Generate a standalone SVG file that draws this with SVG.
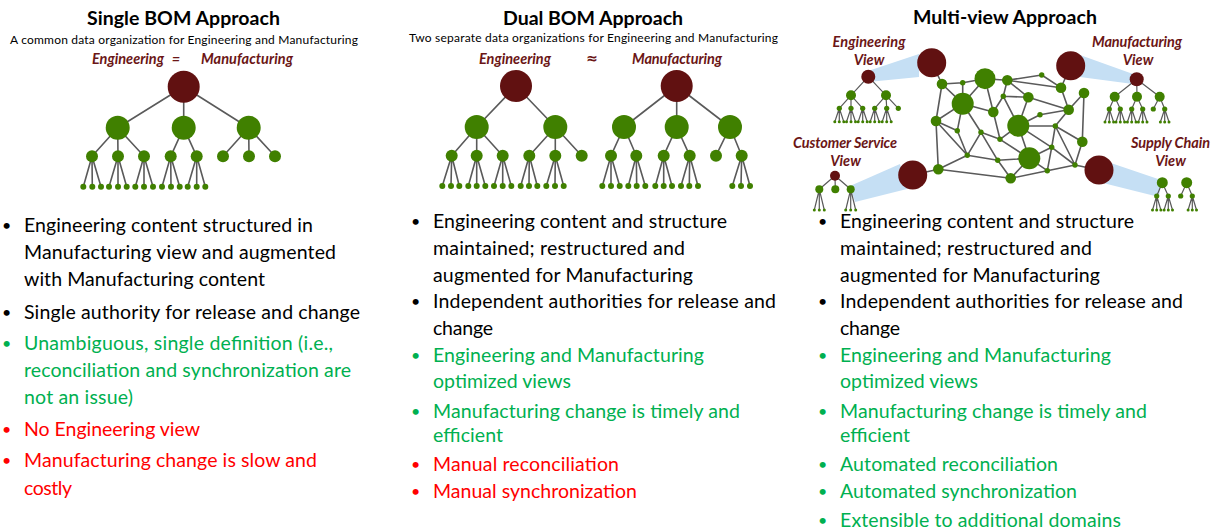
<svg xmlns="http://www.w3.org/2000/svg" width="1216" height="531" viewBox="0 0 1216 531">
<style>
.t{font-family:Lato,"Liberation Sans",sans-serif;font-weight:bold;font-size:19.5px;fill:#000;text-anchor:middle}
.s{font-family:Lato,"Liberation Sans",sans-serif;font-size:12px;fill:#000;text-anchor:middle}
.lb{font-family:Lato,"Liberation Sans",sans-serif;font-weight:bold;font-style:italic;font-size:14.5px;fill:#6b1616;text-anchor:middle}
.b{font-family:Lato,"Liberation Sans",sans-serif;font-size:19.5px}
.bu{font-size:16px}
.k{fill:#000}.g{fill:#00b050}.r{fill:#ff0000}
.dr{fill:#611111}
.gn{fill:#408000}
.e{stroke:#5a5a5a;stroke-width:1.6;fill:none}
.e2{stroke:#5a5a5a;stroke-width:1.2;fill:none}
.w{fill:#c5dff4}
</style>

<g id="headings">
<text class="t" x="183.5" y="25" textLength="193">Single BOM Approach</text>
<text class="s" x="184" y="44" textLength="348">A common data organization for Engineering and Manufacturing</text>
<text class="lb" x="128" y="64" textLength="72">Engineering</text>
<text class="lb" x="176" y="64">=</text>
<text class="lb" x="247" y="64" textLength="92">Manufacturing</text>

<text class="t" x="593" y="25" textLength="180">Dual BOM Approach</text>
<text class="s" x="593.5" y="42" textLength="369">Two separate data organizations for Engineering and Manufacturing</text>
<text class="lb" x="515" y="64" textLength="72">Engineering</text>
<text class="lb" x="592" y="63" style="font-family:'DejaVu Sans',sans-serif;font-size:14px;font-style:normal">≈</text>
<text class="lb" x="677" y="64" textLength="90">Manufacturing</text>

<text class="t" x="1005" y="24" textLength="184">Multi-view Approach</text>
<text class="lb" x="869" y="47" textLength="73">Engineering</text>
<text class="lb" x="869" y="64.5">View</text>
<text class="lb" x="1137" y="47" textLength="90">Manufacturing</text>
<text class="lb" x="1138" y="64.5">View</text>
<text class="lb" x="845" y="148" textLength="104">Customer Service</text>
<text class="lb" x="845.5" y="166">View</text>
<text class="lb" x="1170.5" y="148" textLength="79">Supply Chain</text>
<text class="lb" x="1170.5" y="166">View</text>
</g>

<g id="view-wedges">
<polygon class="w" points="868,71 919,54 919,77 868,82"/>
<polygon class="w" points="1080,55 1133,74 1133,84 1080,77"/>
<polygon class="w" points="900,164 907,189 855,202 850,186"/>
<polygon class="w" points="1108,162 1161,180 1159,197 1103,183"/>
</g>

<g id="connectors">
<path class="e" d="M183.7,86.7L117.7,127.7M183.7,86.7L183.7,127.7M183.7,86.7L248.7,127.7
M117.7,127.7L92,156.3M117.7,127.7L118,156.3M117.7,127.7L144,156.3
M183.7,127.7L170.7,156.3M183.7,127.7L196.7,156.3
M248.7,127.7L223,156.3M248.7,127.7L249,156.3M248.7,127.7L275,156.3
M92,156.3L83.3,186.7M92,156.3L92.3,186.7M92,156.3L101,186.7
M118,156.3L109,186.7M118,156.3L118,186.7M118,156.3L126.7,186.7
M144,156.3L135.3,186.7M144,156.3L144,186.7M144,156.3L153,186.7
M170.7,156.3L162,186.7M170.7,156.3L171,186.7M170.7,156.3L179.7,186.7
M196.7,156.3L187.7,186.7M196.7,156.3L196.7,186.7M196.7,156.3L205.3,186.7"/>
<path class="e" d="M516,86L476.7,127M516,86L555.3,127
M476.7,127L451.7,155.7M476.7,127L476.7,155.7M476.7,127L502.7,155.7
M555.3,127L529.3,155.7M555.3,127L555.3,155.7M555.3,127L581.7,155.7
M451.7,155.7L442.3,186M451.7,155.7L451,186M451.7,155.7L459.3,186
M476.7,155.7L468.3,186M476.7,155.7L476.7,186M476.7,155.7L485.3,186
M502.7,155.7L494,186M502.7,155.7L502.7,186M502.7,155.7L511.3,186
M529.3,155.7L520.7,186M529.3,155.7L529,186M529.3,155.7L537.3,186
M555.3,155.7L546.3,186M555.3,155.7L555,186M555.3,155.7L563.7,186"/>
<path class="e" d="M676.7,86L624,127M676.7,86L676.7,127M676.7,86L730,127
M624,127L611,155.7M624,127L636.3,155.7
M676.7,127L663.7,155.7M676.7,127L689.7,155.7
M730,127L716,155.7M730,127L741.7,155.7
M611,155.7L602.3,186M611,155.7L611,186M611,155.7L619.7,186
M636.3,155.7L628.3,186M636.3,155.7L636.7,186M636.3,155.7L645.3,186
M663.7,155.7L655.3,186M663.7,155.7L663.7,186M663.7,155.7L672,186
M689.7,155.7L681,186M689.7,155.7L689.3,186M689.7,155.7L698,186
M741.7,155.7L732.3,186M741.7,155.7L741,186M741.7,155.7L750,186"/>
<path class="e2" d="M868.3,76.7L851,95.3M868.3,76.7L886,95.3
M851,95.3L839.3,108.3M851,95.3L851,108.3M851,95.3L862.7,108.3
M886,95.3L874.7,108.3M886,95.3L886.7,108.3M886,95.3L898.3,108.3
M839.3,108.3L834.8,121.7M839.3,108.3L839.3,121.7M839.3,108.3L843.8,121.7
M851,108.3L846.5,121.7M851,108.3L851,121.7M851,108.3L855.5,121.7
M862.7,108.3L858.2,121.7M862.7,108.3L862.7,121.7M862.7,108.3L867.2,121.7
M874.7,108.3L870.2,121.7M874.7,108.3L874.7,121.7M874.7,108.3L879.2,121.7
M886.7,108.3L882.2,121.7M886.7,108.3L886.7,121.7M886.7,108.3L891.2,121.7"/>
<path class="e2" d="M1136.7,79.3L1114.7,96.7M1136.7,79.3L1137,96.7M1136.7,79.3L1159.7,96.7
M1114.7,96.7L1109.3,109M1114.7,96.7L1120.3,109
M1137,96.7L1131.7,109M1137,96.7L1142.7,109
M1159.7,96.7L1153.3,109M1159.7,96.7L1164.7,109
M1109.3,109L1105,122M1109.3,109L1109.3,122M1109.3,109L1113.6,122
M1120.3,109L1116,122M1120.3,109L1120.3,122M1120.3,109L1124.6,122
M1131.7,109L1127.4,122M1131.7,109L1131.7,122M1131.7,109L1136,122
M1142.7,109L1138.4,122M1142.7,109L1142.7,122M1142.7,109L1147,122
M1164.7,109L1160.4,122M1164.7,109L1164.7,122M1164.7,109L1169,122"/>
<path class="e2" d="M835,175.7L819.3,189.3M835,175.7L835.3,189.3M835,175.7L850.7,189.3
M819.3,189.3L814.3,210M819.3,189.3L819.3,210M819.3,189.3L824.3,210
M850.7,189.3L845.7,210M850.7,189.3L850.7,210M850.7,189.3L855.7,210"/>
<path class="e2" d="M1162.3,182.7L1156.7,196M1162.3,182.7L1168.3,196
M1186.7,182.7L1180.7,196M1186.7,182.7L1192.3,196
M1156.7,196L1152.5,210M1156.7,196L1156.7,210M1156.7,196L1160.9,210
M1168.3,196L1164.1,210M1168.3,196L1168.3,210M1168.3,196L1172.5,210
M1192.3,196L1188.1,210M1192.3,196L1192.3,210M1192.3,196L1196.5,210"/>
<path class="e" d="M931.7,62.7L942,84
M942,84L962.7,82.7M942,84L962.7,103.7M942,84L936,121
M962.7,82.7L985,78.7M962.7,82.7L962.7,103.7
M985,78.7L1007.3,80.3M985,78.7L962.7,103.7M985,78.7L993.3,112
M1007.3,80.3L1041.7,75M1007.3,80.3L1061,87.7M1007.3,80.3L1003.3,96.3M1007.3,80.3L1028.3,97.3
M1041.7,75L1061,87.7
M1061,87.7L1070.7,65.7M1061,87.7L1068.7,109.7
M1084,93L1068.7,109.7M1084,93L1082.3,141.7
M962.7,103.7L993.3,112M962.7,103.7L957.3,130.7M962.7,103.7L981,132.3M962.7,103.7L936,121
M1003.3,96.3L1028.3,97.3M1003.3,96.3L1018.3,125.7M1003.3,96.3L993.3,112
M1028.3,97.3L1068.7,109.7M1028.3,97.3L1018.3,125.7
M993.3,112L1000,139.3
M1068.7,109.7L1040,114.7M1068.7,109.7L1055.3,126
M936,121L957.3,130.7M936,121L967.3,155.3M936,121L938.3,169.3
M1040,114.7L1018.3,125.7
M1018.3,125.7L1000,139.3M1018.3,125.7L1055.3,126M1018.3,125.7L1051.7,147.3M1018.3,125.7L1029.3,158.3
M957.3,130.7L967.3,155.3
M981,132.3L1000,139.3M981,132.3L967.3,155.3M981,132.3L997.7,160.3
M1000,139.3L1029.3,158.3
M1055.3,126L1082.3,141.7M1055.3,126L1051.7,147.3M1055.3,126L1075,165
M1082.3,141.7L1075,165
M1051.7,147.3L1029.3,158.3M1051.7,147.3L1047.3,170.7M1051.7,147.3L1075,165
M1029.3,158.3L997.7,160.3M1029.3,158.3L1010.7,178.3M1029.3,158.3L1047.3,170.7
M967.3,155.3L997.7,160.3M967.3,155.3L938.3,169.3
M997.7,160.3L1010.7,178.3
M938.3,169.3L1010.7,178.3M938.3,169.3L912.7,175
M1010.7,178.3L1047.3,170.7
M1047.3,170.7L1075,165
M1075,165L1099,170"/>
</g>

<g id="single-bom-tree">
<circle class="dr" cx="183.7" cy="86.7" r="16"/>
<g class="gn">
<circle cx="117.7" cy="127.7" r="12"/><circle cx="183.7" cy="127.7" r="12"/><circle cx="248.7" cy="127.7" r="12"/>
<circle cx="92" cy="156.3" r="6"/><circle cx="118" cy="156.3" r="6"/><circle cx="144" cy="156.3" r="6"/><circle cx="170.7" cy="156.3" r="6"/><circle cx="196.7" cy="156.3" r="6"/><circle cx="223" cy="156.3" r="6"/><circle cx="249" cy="156.3" r="6"/><circle cx="275" cy="156.3" r="6"/>
<circle cx="83.3" cy="186.7" r="3"/><circle cx="92.3" cy="186.7" r="3"/><circle cx="101" cy="186.7" r="3"/>
<circle cx="109" cy="186.7" r="3"/><circle cx="118" cy="186.7" r="3"/><circle cx="126.7" cy="186.7" r="3"/>
<circle cx="135.3" cy="186.7" r="3"/><circle cx="144" cy="186.7" r="3"/><circle cx="153" cy="186.7" r="3"/>
<circle cx="162" cy="186.7" r="3"/><circle cx="171" cy="186.7" r="3"/><circle cx="179.7" cy="186.7" r="3"/>
<circle cx="187.7" cy="186.7" r="3"/><circle cx="196.7" cy="186.7" r="3"/><circle cx="205.3" cy="186.7" r="3"/>
</g>
</g>

<g id="dual-eng-tree">
<circle class="dr" cx="516" cy="86" r="16"/>
<g class="gn">
<circle cx="476.7" cy="127" r="12"/><circle cx="555.3" cy="127" r="12"/>
<circle cx="451.7" cy="155.7" r="6"/><circle cx="476.7" cy="155.7" r="6"/><circle cx="502.7" cy="155.7" r="6"/><circle cx="529.3" cy="155.7" r="6"/><circle cx="555.3" cy="155.7" r="6"/><circle cx="581.7" cy="155.7" r="6"/>
<circle cx="442.3" cy="186" r="3"/><circle cx="451" cy="186" r="3"/><circle cx="459.3" cy="186" r="3"/>
<circle cx="468.3" cy="186" r="3"/><circle cx="476.7" cy="186" r="3"/><circle cx="485.3" cy="186" r="3"/>
<circle cx="494" cy="186" r="3"/><circle cx="502.7" cy="186" r="3"/><circle cx="511.3" cy="186" r="3"/>
<circle cx="520.7" cy="186" r="3"/><circle cx="529" cy="186" r="3"/><circle cx="537.3" cy="186" r="3"/>
<circle cx="546.3" cy="186" r="3"/><circle cx="555" cy="186" r="3"/><circle cx="563.7" cy="186" r="3"/>
</g>
</g>

<g id="dual-mfg-tree">
<circle class="dr" cx="676.7" cy="86" r="16"/>
<g class="gn">
<circle cx="624" cy="127" r="12"/><circle cx="676.7" cy="127" r="12"/><circle cx="730" cy="127" r="12"/>
<circle cx="611" cy="155.7" r="6"/><circle cx="636.3" cy="155.7" r="6"/><circle cx="663.7" cy="155.7" r="6"/><circle cx="689.7" cy="155.7" r="6"/><circle cx="716" cy="155.7" r="6"/><circle cx="741.7" cy="155.7" r="6"/>
<circle cx="602.3" cy="186" r="3"/><circle cx="611" cy="186" r="3"/><circle cx="619.7" cy="186" r="3"/>
<circle cx="628.3" cy="186" r="3"/><circle cx="636.7" cy="186" r="3"/><circle cx="645.3" cy="186" r="3"/>
<circle cx="655.3" cy="186" r="3"/><circle cx="663.7" cy="186" r="3"/><circle cx="672" cy="186" r="3"/>
<circle cx="681" cy="186" r="3"/><circle cx="689.3" cy="186" r="3"/><circle cx="698" cy="186" r="3"/>
<circle cx="732.3" cy="186" r="3"/><circle cx="741" cy="186" r="3"/><circle cx="750" cy="186" r="3"/>
</g>
</g>

<g id="eng-view-tree">
<circle class="dr" cx="868.3" cy="76.7" r="7"/>
<g class="gn">
<circle cx="851" cy="95.3" r="5"/><circle cx="886" cy="95.3" r="5"/>
<circle cx="839.3" cy="108.3" r="2.6"/><circle cx="851" cy="108.3" r="2.6"/><circle cx="862.7" cy="108.3" r="2.6"/><circle cx="874.7" cy="108.3" r="2.6"/><circle cx="886.7" cy="108.3" r="2.6"/><circle cx="898.3" cy="108.3" r="2.6"/>
<circle cx="834.8" cy="121.7" r="1.5"/><circle cx="839.3" cy="121.7" r="1.5"/><circle cx="843.8" cy="121.7" r="1.5"/>
<circle cx="846.5" cy="121.7" r="1.5"/><circle cx="851" cy="121.7" r="1.5"/><circle cx="855.5" cy="121.7" r="1.5"/>
<circle cx="858.2" cy="121.7" r="1.5"/><circle cx="862.7" cy="121.7" r="1.5"/><circle cx="867.2" cy="121.7" r="1.5"/>
<circle cx="870.2" cy="121.7" r="1.5"/><circle cx="874.7" cy="121.7" r="1.5"/><circle cx="879.2" cy="121.7" r="1.5"/>
<circle cx="882.2" cy="121.7" r="1.5"/><circle cx="886.7" cy="121.7" r="1.5"/><circle cx="891.2" cy="121.7" r="1.5"/>
</g>
</g>

<g id="mfg-view-tree">
<circle class="dr" cx="1136.7" cy="79.3" r="7"/>
<g class="gn">
<circle cx="1114.7" cy="96.7" r="5"/><circle cx="1137" cy="96.7" r="5"/><circle cx="1159.7" cy="96.7" r="5"/>
<circle cx="1109.3" cy="109" r="2.6"/><circle cx="1120.3" cy="109" r="2.6"/><circle cx="1131.7" cy="109" r="2.6"/><circle cx="1142.7" cy="109" r="2.6"/><circle cx="1153.3" cy="109" r="2.6"/><circle cx="1164.7" cy="109" r="2.6"/>
<circle cx="1105" cy="122" r="1.5"/><circle cx="1109.3" cy="122" r="1.5"/><circle cx="1113.6" cy="122" r="1.5"/>
<circle cx="1116" cy="122" r="1.5"/><circle cx="1120.3" cy="122" r="1.5"/><circle cx="1124.6" cy="122" r="1.5"/>
<circle cx="1127.4" cy="122" r="1.5"/><circle cx="1131.7" cy="122" r="1.5"/><circle cx="1136" cy="122" r="1.5"/>
<circle cx="1138.4" cy="122" r="1.5"/><circle cx="1142.7" cy="122" r="1.5"/><circle cx="1147" cy="122" r="1.5"/>
<circle cx="1160.4" cy="122" r="1.5"/><circle cx="1164.7" cy="122" r="1.5"/><circle cx="1169" cy="122" r="1.5"/>
</g>
</g>

<g id="cs-view-tree">
<circle class="dr" cx="835" cy="175.7" r="5"/>
<g class="gn">
<circle cx="819.3" cy="189.3" r="4"/><circle cx="835.3" cy="189.3" r="4"/><circle cx="850.7" cy="189.3" r="4"/>
<circle cx="814.3" cy="210" r="1.5"/><circle cx="819.3" cy="210" r="1.5"/><circle cx="824.3" cy="210" r="1.5"/>
<circle cx="845.7" cy="210" r="1.5"/><circle cx="850.7" cy="210" r="1.5"/><circle cx="855.7" cy="210" r="1.5"/>
</g>
</g>

<g id="sc-view-tree">
<g class="gn">
<circle cx="1162.3" cy="182.7" r="5.5"/><circle cx="1186.7" cy="182.7" r="5.5"/>
<circle cx="1156.7" cy="196" r="2.6"/><circle cx="1168.3" cy="196" r="2.6"/><circle cx="1180.7" cy="196" r="2.6"/><circle cx="1192.3" cy="196" r="2.6"/>
<circle cx="1152.5" cy="210" r="1.5"/><circle cx="1156.7" cy="210" r="1.5"/><circle cx="1160.9" cy="210" r="1.5"/>
<circle cx="1164.1" cy="210" r="1.5"/><circle cx="1168.3" cy="210" r="1.5"/><circle cx="1172.5" cy="210" r="1.5"/>
<circle cx="1188.1" cy="210" r="1.5"/><circle cx="1192.3" cy="210" r="1.5"/><circle cx="1196.5" cy="210" r="1.5"/>
</g>
</g>

<g id="network">
<g id="view-anchors" class="dr">
<circle cx="931.7" cy="62.7" r="14.5"/><circle cx="1070.7" cy="65.7" r="14.5"/><circle cx="912.7" cy="175" r="14.5"/><circle cx="1099" cy="170" r="14.5"/>
</g>
<g class="gn">
<circle cx="942" cy="84" r="5.3"/><circle cx="962.7" cy="82.7" r="2.7"/><circle cx="985" cy="78.7" r="10.5"/><circle cx="1007.3" cy="80.3" r="5.3"/><circle cx="1041.7" cy="75" r="2.7"/><circle cx="1061" cy="87.7" r="5.3"/><circle cx="1084" cy="93" r="5.3"/>
<circle cx="962.7" cy="103.7" r="11"/><circle cx="1003.3" cy="96.3" r="2.7"/><circle cx="1028.3" cy="97.3" r="5.3"/><circle cx="993.3" cy="112" r="5.3"/><circle cx="1068.7" cy="109.7" r="5.3"/>
<circle cx="936" cy="121" r="5.3"/><circle cx="1040" cy="114.7" r="2.7"/><circle cx="1018.3" cy="125.7" r="11"/><circle cx="957.3" cy="130.7" r="2.7"/><circle cx="981" cy="132.3" r="2.7"/><circle cx="1000" cy="139.3" r="2.7"/>
<circle cx="1055.3" cy="126" r="2.7"/><circle cx="1082.3" cy="141.7" r="5.3"/><circle cx="1051.7" cy="147.3" r="2.7"/><circle cx="1029.3" cy="158.3" r="11"/><circle cx="967.3" cy="155.3" r="2.7"/><circle cx="997.7" cy="160.3" r="2.7"/>
<circle cx="938.3" cy="169.3" r="5.3"/><circle cx="1010.7" cy="178.3" r="5.3"/><circle cx="1047.3" cy="170.7" r="2.7"/><circle cx="1075" cy="165" r="2.7"/>
</g>
</g>

<g id="single-bom-text" class="b">
<text class="k bu" x="2" y="231">•</text><text class="k" x="24" y="232" textLength="289">Engineering content structured in</text>
<text class="k" x="24" y="259" textLength="312">Manufacturing view and augmented</text>
<text class="k" x="24" y="286" textLength="241">with Manufacturing content</text>
<text class="k bu" x="2" y="318">•</text><text class="k" x="24" y="319" textLength="336">Single authority for release and change</text>
<text class="g bu" x="2" y="349">•</text><text class="g" x="24" y="350" textLength="309">Unambiguous, single definition (i.e.,</text>
<text class="g" x="24" y="377" textLength="327">reconciliation and synchronization are</text>
<text class="g" x="24" y="404" textLength="109">not an issue)</text>
<text class="r bu" x="2" y="435">•</text><text class="r" x="24" y="436" textLength="176">No Engineering view</text>
<text class="r bu" x="2" y="466">•</text><text class="r" x="24" y="467" textLength="293">Manufacturing change is slow and</text>
<text class="r" x="24" y="495" textLength="48">costly</text>
</g>

<g id="dual-bom-text" class="b">
<text class="k bu" x="411" y="227">•</text><text class="k" x="433" y="228" textLength="294">Engineering content and structure</text>
<text class="k" x="433" y="255" textLength="252">maintained; restructured and</text>
<text class="k" x="433" y="282" textLength="260">augmented for Manufacturing</text>
<text class="k bu" x="411" y="307">•</text><text class="k" x="433" y="308" textLength="343">Independent authorities for release and</text>
<text class="k" x="433" y="335" textLength="60">change</text>
<text class="g bu" x="411" y="361">•</text><text class="g" x="433" y="362" textLength="271">Engineering and Manufacturing</text>
<text class="g" x="433" y="388" textLength="138">optimized views</text>
<text class="g bu" x="411" y="417">•</text><text class="g" x="433" y="418" textLength="307">Manufacturing change is timely and</text>
<text class="g" x="433" y="442" textLength="70">efficient</text>
<text class="r bu" x="411" y="470">•</text><text class="r" x="433" y="471" textLength="186">Manual reconciliation</text>
<text class="r bu" x="411" y="497">•</text><text class="r" x="433" y="498" textLength="204">Manual synchronization</text>
</g>

<g id="multi-view-text" class="b">
<text class="k bu" x="818" y="227">•</text><text class="k" x="840" y="228" textLength="294">Engineering content and structure</text>
<text class="k" x="840" y="255" textLength="252">maintained; restructured and</text>
<text class="k" x="840" y="282" textLength="260">augmented for Manufacturing</text>
<text class="k bu" x="818" y="307">•</text><text class="k" x="840" y="308" textLength="343">Independent authorities for release and</text>
<text class="k" x="840" y="335" textLength="60">change</text>
<text class="g bu" x="818" y="361">•</text><text class="g" x="840" y="362" textLength="271">Engineering and Manufacturing</text>
<text class="g" x="840" y="388" textLength="138">optimized views</text>
<text class="g bu" x="818" y="417">•</text><text class="g" x="840" y="418" textLength="307">Manufacturing change is timely and</text>
<text class="g" x="840" y="442" textLength="70">efficient</text>
<text class="g bu" x="818" y="470">•</text><text class="g" x="840" y="471" textLength="218">Automated reconciliation</text>
<text class="g bu" x="818" y="497">•</text><text class="g" x="840" y="498" textLength="237">Automated synchronization</text>
<text class="g bu" x="818" y="526">•</text><text class="g" x="840" y="527" textLength="281">Extensible to additional domains</text>
</g>
</svg>
